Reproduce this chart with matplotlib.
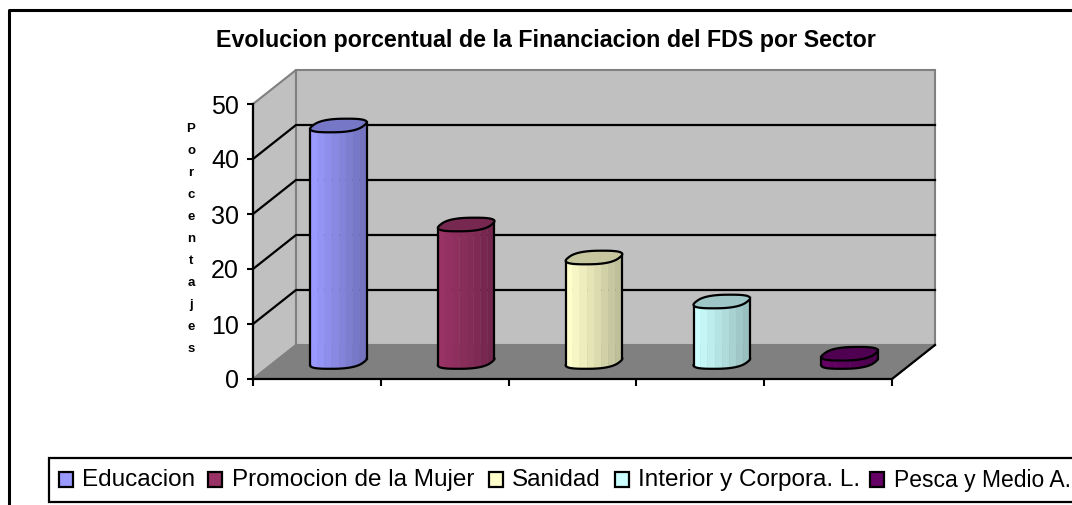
import numpy as np
import matplotlib.pyplot as plt
from matplotlib.colors import to_rgb
from matplotlib.patches import Polygon, Rectangle

plt.rcParams['font.family'] = ['Liberation Sans', 'DejaVu Sans']

sectores = ['Educacion', 'Promocion de la Mujer', 'Sanidad', 'Interior y Corpora. L.', 'Pesca y Medio A.']
valores = [43, 25, 19, 11, 1.5]
colores = ['#9999ff', '#993366', '#ffffcc', '#ccffff', '#660066']
y_ticks = [0, 10, 20, 30, 40, 50]

W, H = 1072, 505
fig = plt.figure(figsize=(W / 100, H / 100), dpi=100)

# marco exterior, en pixeles
bg = fig.add_axes([0, 0, 1, 1])
bg.set_xlim(0, W)
bg.set_ylim(H, 0)
bg.axis('off')
bg.plot([9, 9, W], [H, 10, 10], color='black', lw=2.2)
bg.text(546, 41, 'Evolucion porcentual de la Financiacion del FDS por Sector',
        fontsize=16.75, fontweight='bold', ha='center', va='center')
bg.text(191, 239, '\n'.join('Porcentajes'), fontsize=9.5, fontweight='bold',
        ha='center', va='center', linespacing=2.1)

# leyenda
bg.add_patch(Rectangle((49, 458), 1040, 44, fc='white', ec='black', lw=1.6))
swatch_x = [59, 208, 489, 615, 870]
label_x = [82, 232, 512, 638, 894]
label_size = [17.5, 17.5, 17.5, 17.5, 16.5]
for sx, lx, fs, nombre, c in zip(swatch_x, label_x, label_size, sectores, colores):
    bg.add_patch(Rectangle((sx, 472), 14, 15, fc=c, ec='black', lw=1.6))
    bg.text(lx, 480, nombre, fontsize=fs, ha='left', va='center')

# plano frontal del grafico 3D
ax = fig.add_axes([253 / W, 1 - 379 / H, (892 - 253) / W, (379 - 104) / H])
ax.set_xlim(0, 5)
ax.set_ylim(0, 50)
ax.patch.set_alpha(0)
for s in ['top', 'right']:
    ax.spines[s].set_visible(False)
for s in ['left', 'bottom']:
    ax.spines[s].set_linewidth(1.6)
    ax.spines[s].set_zorder(20)
ax.set_xticks(range(6))
ax.set_xticklabels([])
ax.set_yticks(y_ticks)
ax.tick_params(axis='y', labelsize=18, length=4, width=1.5, pad=6)
ax.tick_params(axis='x', length=5, width=1.5, direction='out')

DX = 43 / (639 / 5)  # profundidad en unidades de x
DY = 34 / 5.5        # profundidad en unidades de y

gris = '#c0c0c0'
ax.add_patch(Polygon([(0, 0), (DX, DY), (DX, 50 + DY), (0, 50)], fc=gris, ec='#808080', lw=1.5, zorder=1, clip_on=False))
ax.add_patch(Polygon([(DX, DY), (5 + DX, DY), (5 + DX, 50 + DY), (DX, 50 + DY)], fc=gris, ec='#808080', lw=1.5, zorder=1, clip_on=False))
ax.add_patch(Polygon([(0, 0), (5, 0), (5 + DX, DY), (DX, DY)], fc='#808080', ec='#808080', lw=1, zorder=1, clip_on=False))
ax.plot([5, 5 + DX], [0, DY], color='black', lw=1.6, zorder=2, clip_on=False)
for v in y_ticks[1:-1]:
    ax.plot([0, DX, 5 + DX], [v, v + DY, v + DY], color='black', lw=1.6, zorder=2, clip_on=False)


def oscurecer(color, f):
    return tuple(np.array(to_rgb(color)) * f)


def cilindro(cx, val, color, z):
    r = 0.2
    prof = 0.4
    t = np.linspace(0, 2 * np.pi, 193)
    # algo cuadrada, como la elipse poligonal del original
    c = np.sign(np.cos(t)) * np.abs(np.cos(t)) ** 0.75
    s = np.sign(np.sin(t)) * np.abs(np.sin(t)) ** 0.75
    ex = r * c + prof / 2 * s * DX
    ey = prof / 2 * s * DY
    # borde izquierdo y derecho de la elipse inclinada
    i_r = np.argmax(ex[:-1])
    i_l = np.argmin(ex[:-1])
    orden = (i_l + np.arange(0, (i_r - i_l) % 192 + 1)) % 192
    fx, fy = ex[orden], ey[orden]
    base = 0.5 * DY
    x0 = cx + 0.5 * DX
    n = 8
    # franjas de igual ancho en pantalla
    limites = np.linspace(fx.min(), fx.max(), n + 1)
    cortes = np.clip(np.searchsorted(fx, limites), 0, len(fx) - 1)
    cortes[0] = 0
    for k in range(n):
        a, b = cortes[k], cortes[k + 1] + 1
        xs = x0 + fx[a:b]
        low = base + fy[a:b]
        high = base + val + fy[a:b]
        col = oscurecer(color, 1 - 0.25 * k / (n - 1))
        pts = list(zip(xs, low)) + list(zip(xs[::-1], high[::-1]))
        ax.add_patch(Polygon(pts, fc=col, ec=col, lw=0.3, zorder=z, clip_on=False))
    # contorno del cuerpo
    ax.plot(x0 + fx, base + fy, color='black', lw=1.6, zorder=z + 1, clip_on=False)
    ax.plot([x0 + fx[0]] * 2, [base + fy[0], base + val + fy[0]], color='black', lw=1.6, zorder=z + 1, clip_on=False)
    ax.plot([x0 + fx[-1]] * 2, [base + fy[-1], base + val + fy[-1]], color='black', lw=1.6, zorder=z + 1, clip_on=False)
    # tapa
    ax.add_patch(Polygon(list(zip(x0 + ex, base + val + ey)), fc=oscurecer(color, 0.78),
                         ec='black', lw=1.6, zorder=z + 1, clip_on=False))


for i, (v, c) in enumerate(zip(valores, colores)):
    cilindro(i + 0.5, v, c, 3 + i)

fig.savefig('out.png', dpi=100)
